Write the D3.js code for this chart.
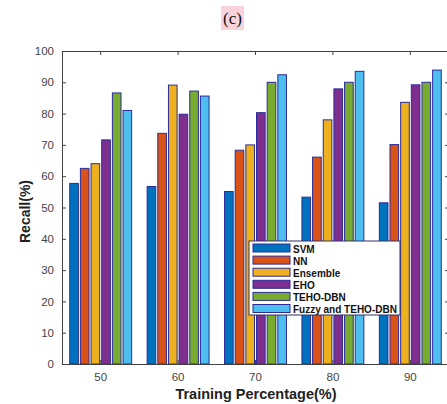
<!DOCTYPE html>
<html>
<head>
<meta charset="utf-8">
<script src="https://cdn.jsdelivr.net/npm/d3@7"></script>
<style>
  html, body { margin: 0; padding: 0; background: #fff; }
  svg { display: block; }
</style>
</head>
<body>
<div id="chart"></div>
<script>
// Recall of each method across training percentages
const categories = ["50", "60", "70", "80", "90"];
const methods = ["SVM", "NN", "Ensemble", "EHO", "TEHO-DBN", "Fuzzy and TEHO-DBN"];
const svmValues      = [57.7, 56.7, 55.1, 53.3, 51.5];
const nnValues       = [62.5, 73.7, 68.3, 66.1, 70.1];
const ensembleValues = [64.0, 89.1, 70.0, 78.0, 83.6];
const ehoValues      = [71.6, 79.8, 80.3, 87.9, 89.2];
const tehoValues     = [86.6, 87.2, 90.0, 90.0, 90.0];
const fuzzyValues    = [81.0, 85.6, 92.4, 93.5, 93.9];
const yTicks = [0, 10, 20, 30, 40, 50, 60, 70, 80, 90, 100];

const seriesValues = [svmValues, nnValues, ensembleValues, ehoValues, tehoValues, fuzzyValues];
const colors = ["#0072BD", "#D95319", "#EDB120", "#7E2F8E", "#77AC30", "#4DBEEE"];
const edgeColor = "#2b2b9a";

const W = 447, H = 404;
const plot = { left: 62, right: 449, top: 51, bottom: 364 };

const svg = d3.select("#chart").append("svg")
  .attr("width", W).attr("height", H);

// Panel title with its highlight
const titleG = svg.append("g");
titleG.append("rect")
  .attr("x", 221).attr("y", 6).attr("width", 23).attr("height", 24)
  .attr("fill", "#f8d3dc");
titleG.append("text")
  .attr("x", 232.5).attr("y", 24)
  .attr("text-anchor", "middle")
  .attr("font-family", "'Liberation Serif', 'Times New Roman', serif")
  .attr("font-size", 17)
  .attr("fill", "#111")
  .text("(c)");

const x0 = d3.scaleBand().domain(categories).range([plot.left, plot.right]).padding(0);
const groupWidth = 63;
const x1 = d3.scaleBand().domain(methods)
  .range([-groupWidth / 2, groupWidth / 2])
  .paddingInner(0.19).paddingOuter(0.05);
const y = d3.scaleLinear().domain([0, 100]).range([plot.bottom, plot.top]);

// Bars
const groups = svg.append("g").selectAll("g")
  .data(categories)
  .join("g")
  .attr("transform", d => `translate(${x0(d) + x0.bandwidth() / 2},0)`);

groups.selectAll("rect")
  .data((c, i) => methods.map((m, k) => ({ m, k, v: seriesValues[k][i] })))
  .join("rect")
  .attr("x", d => x1(d.m))
  .attr("width", x1.bandwidth())
  .attr("y", d => y(d.v))
  .attr("height", d => y(0) - y(d.v))
  .attr("fill", d => colors[d.k])
  .attr("stroke", edgeColor)
  .attr("stroke-width", 1);

// Axes (ticks pointing inward, box around the plot)
const axisColor = "#404040";
const tickFont = "'Liberation Sans', Arial, sans-serif";

const yAxis = svg.append("g")
  .attr("transform", `translate(${plot.left},0)`)
  .call(d3.axisLeft(y).tickValues(yTicks).tickSize(-4).tickPadding(8).tickSizeOuter(0));
const yAxisR = svg.append("g")
  .attr("transform", `translate(${plot.right},0)`)
  .call(d3.axisRight(y).tickValues(yTicks).tickSize(-4).tickFormat("").tickSizeOuter(0));
const xAxis = svg.append("g")
  .attr("transform", `translate(0,${plot.bottom})`)
  .call(d3.axisBottom(x0).tickSize(-4).tickPadding(9).tickSizeOuter(0));
const xAxisT = svg.append("g")
  .attr("transform", `translate(0,${plot.top})`)
  .call(d3.axisTop(x0).tickSize(-4).tickFormat("").tickSizeOuter(0));

[yAxis, yAxisR, xAxis, xAxisT].forEach(g => {
  g.selectAll("path.domain").attr("stroke", axisColor).attr("stroke-width", 1);
  g.selectAll(".tick line").attr("stroke", axisColor);
  g.selectAll("text")
    .attr("font-family", tickFont)
    .attr("font-size", 11.5)
    .attr("fill", "#444");
});

// Axis titles
svg.append("text")
  .attr("transform", `translate(30,${(plot.top + plot.bottom) / 2 + 4}) rotate(-90)`)
  .attr("text-anchor", "middle")
  .attr("font-family", tickFont)
  .attr("font-weight", "bold")
  .attr("font-size", 14)
  .attr("fill", "#222")
  .text("Recall(%)");

svg.append("text")
  .attr("x", 256).attr("y", 399)
  .attr("text-anchor", "middle")
  .attr("font-family", tickFont)
  .attr("font-weight", "bold")
  .attr("font-size", 14.5)
  .attr("fill", "#222")
  .text("Training Percentage(%)");

// Legend
const legend = svg.append("g").attr("transform", "translate(249,241)");
legend.append("rect")
  .attr("width", 151).attr("height", 74)
  .attr("fill", "#fff")
  .attr("stroke", "#333366")
  .attr("stroke-width", 1);
const rows = legend.selectAll("g.row")
  .data(methods)
  .join("g")
  .attr("class", "row")
  .attr("transform", (d, i) => `translate(4,${3 + i * 12.1})`);
rows.append("rect")
  .attr("width", 37).attr("height", 8)
  .attr("fill", (d, i) => colors[i])
  .attr("stroke", edgeColor)
  .attr("stroke-width", 1);
rows.append("text")
  .attr("x", 40).attr("y", 8.5)
  .attr("font-family", tickFont)
  .attr("font-weight", "bold")
  .attr("font-size", 10)
  .attr("fill", "#111")
  .text(d => d);
</script>
</body>
</html>
